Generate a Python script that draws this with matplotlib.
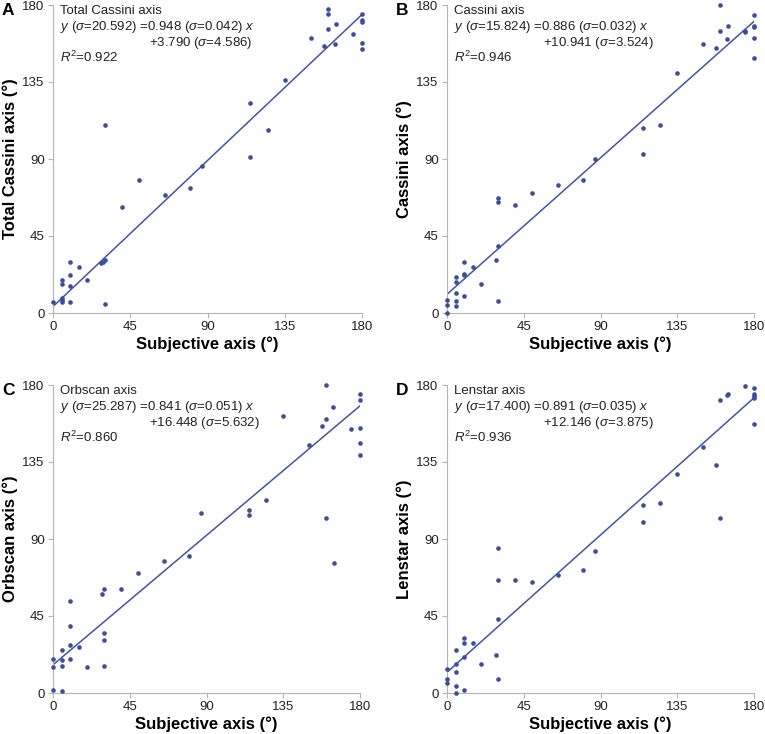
import matplotlib
matplotlib.use("Agg")
import matplotlib.pyplot as plt
import numpy as np

plt.rcParams['font.family'] = ['Liberation Sans', 'DejaVu Sans']
plt.rcParams['mathtext.fontset'] = 'custom'
plt.rcParams['mathtext.rm'] = 'Liberation Sans'
plt.rcParams['mathtext.it'] = 'Liberation Sans:italic'

# subjective axis (x) and device axes (y)
xA = [0, 5, 5, 5, 5, 5, 10, 10, 10, 10, 15, 20, 28, 29, 30, 30, 30, 40, 50, 65, 80, 87,
      115, 115, 125, 135, 150, 158, 160, 160, 160, 164, 165, 175, 180, 180, 180, 180, 180]
yA = [6.4, 19, 17, 9, 7.5, 6.4, 30, 22, 16, 6.4, 27, 19, 29.5, 30, 31, 110, 5, 62, 78, 69, 73, 86,
      91, 123, 107, 136, 161, 156, 177.5, 175, 166, 157, 169, 163, 175, 171, 170, 158, 154]

xB = [0, 0, 0, 5, 5, 5, 5, 5, 10, 10, 10, 10, 15, 20, 29, 30, 30, 30, 30, 40, 50, 65, 80, 87,
      115, 115, 125, 135, 150, 158, 160, 160, 164, 165, 175, 175, 180, 180, 180, 180, 180]
yB = [7.8, 4.9, 0, 21, 18, 11.7, 6.8, 3.9, 30, 23, 22, 10, 27, 17, 31, 39, 67, 65, 7, 63, 70, 75, 78, 90,
      108, 93, 110, 140, 157, 155, 180, 165, 160, 168, 164, 165, 174, 168, 167, 161, 149]

xC = [0, 0, 0, 5, 5, 5, 5, 10, 10, 10, 10, 15, 20, 29, 30, 30, 30, 30, 40, 50, 65, 80, 87,
      115, 115, 125, 135, 150, 158, 160, 160, 160, 164, 165, 175, 180, 180, 180, 180, 180]
yC = [20, 15, 2, 25, 19, 16, 1, 54, 39, 28, 20, 27, 15, 58, 61, 35, 31, 16, 61, 70, 77, 80, 105,
      107, 104, 113, 162, 145, 156, 180, 160, 102, 167, 76, 154, 175, 171, 155, 146, 139]

xD = [0, 0, 0, 5, 5, 5, 5, 5, 10, 10, 10, 10, 15, 20, 29, 30, 30, 30, 30, 40, 50, 65, 80, 87,
      115, 115, 125, 135, 150, 158, 160, 160, 164, 165, 175, 180, 180, 180, 180, 180]
yD = [14, 8, 6, 25, 17, 12, 4, 0, 32, 29, 21, 2, 29, 17, 22, 43, 85, 66, 8, 66, 65, 69, 72, 83,
      110, 100, 111, 128, 144, 133, 171.5, 102, 174, 174.5, 179.5, 178.5, 174.5, 173.5, 172.5, 157.5]

# fitted lines: slope, intercept
fits = [(0.948, 3.790), (0.886, 10.941), (0.841, 16.448), (0.891, 12.146)]

panel_letters = ['A', 'B', 'C', 'D']
ylabels = ['Total Cassini axis (°)', 'Cassini axis (°)', 'Orbscan axis (°)', 'Lenstar axis (°)']
titles = ['Total Cassini axis', 'Cassini axis', 'Orbscan axis', 'Lenstar axis']
eq1 = [r'$y$ ($\sigma$=20.592) =0.948 ($\sigma$=0.042) $x$',
       r'$y$ ($\sigma$=15.824) =0.886 ($\sigma$=0.032) $x$',
       r'$y$ ($\sigma$=25.287) =0.841 ($\sigma$=0.051) $x$',
       r'$y$ ($\sigma$=17.400) =0.891 ($\sigma$=0.035) $x$']
eq2 = [r'+3.790 ($\sigma$=4.586)', r'+10.941 ($\sigma$=3.524)',
       r'+16.448 ($\sigma$=5.632)', r'+12.146 ($\sigma$=3.875)']
r2 = ['0.922', '0.946', '0.860', '0.936']

xs = [xA, xB, xC, xD]
ys = [yA, yB, yC, yD]
ticks = [0, 45, 90, 135, 180]

W, H = 765, 734
fig = plt.figure(figsize=(W / 100, H / 100), dpi=100)

# axes boxes in pixels: left, top, right, bottom
boxes = [(53, 5, 362, 313), (447, 5, 754, 313),
         (53, 385, 360, 693), (447, 385, 754, 693)]

dot_col = '#3b4d9c'
line_col = '#4354a4'

for i, (l, t, r, b) in enumerate(boxes):
    ax = fig.add_axes([l / W, 1 - b / H, (r - l) / W, (b - t) / H])
    ax.scatter(xs[i], ys[i], s=11, color=dot_col, linewidths=0, clip_on=False, zorder=3)
    m, c = fits[i]
    xl = np.array([0, 180])
    ax.plot(xl, m * xl + c, color=line_col, lw=1.1, zorder=2)
    ax.set_xlim(0, 180)
    ax.set_ylim(0, 180)
    ax.set_xticks(ticks)
    ax.set_yticks(ticks)
    for s in ['top', 'right']:
        ax.spines[s].set_visible(False)
    for s in ['left', 'bottom']:
        ax.spines[s].set_color('#b5b5b5')
        ax.spines[s].set_linewidth(0.8)
    ax.tick_params(direction='out', length=3.5, width=0.8, color='#b5b5b5',
                   labelsize=9.5, labelcolor='#222222', pad=2.5)
    ax.set_xlabel('Subjective axis (°)', fontsize=12, fontweight='bold', labelpad=2)
    ax.set_ylabel(ylabels[i], fontsize=12, fontweight='bold', labelpad=3)

    kw = dict(xy=(0, 1), xycoords='axes fraction', textcoords='offset points',
              va='baseline', ha='left', fontsize=9.5, color='#222222')
    ax.annotate(titles[i], xytext=(5, -6.5), **kw)
    ax.annotate(eq1[i], xytext=(5, -18), **kw)
    ax.annotate(eq2[i], xytext=(69, -29.5), **kw)
    ax.annotate(r'$R^2$=' + r2[i], xytext=(5, -41), **kw)

    # panel letter
    lx = 2 if i % 2 == 0 else 396
    fig.text(lx / W, 1 - (t + 10) / H, panel_letters[i], fontsize=12.5,
             fontweight='bold', va='baseline', ha='left')

fig.savefig('out.png', dpi=100)
